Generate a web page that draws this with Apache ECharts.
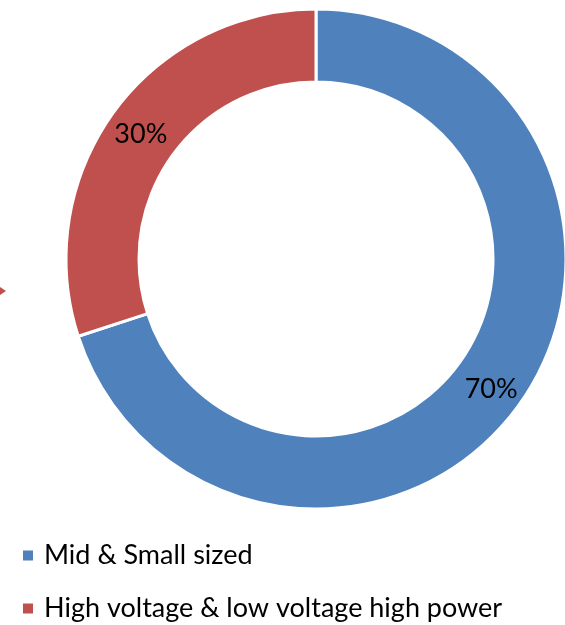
<!DOCTYPE html>
<html><head><meta charset="utf-8">
<script src="https://cdn.jsdelivr.net/npm/echarts@6/dist/echarts.min.js"></script>
<style>html,body{margin:0;padding:0;background:#fff}#c{width:565px;height:625px}</style>
</head><body><div id="c"></div>
<script>
var categories = ['Mid & Small sized', 'High voltage & low voltage high power'];
var values = [70, 30];
var colors = ['#4F81BD', '#C0504D'];

var chart = echarts.init(document.getElementById('c'), null, {renderer: 'canvas'});
chart.setOption({
  animation: false,
  color: colors,
  legend: {
    orient: 'vertical', left: 16, top: 537, height: 150,
    icon: 'rect', itemWidth: 12, itemHeight: 12, itemGap: 26,
    textStyle: {fontFamily: 'Lato', fontSize: 27, color: '#000', padding: [0, 0, 0, 5]},
    data: categories
  },
  graphic: [{
    type: 'polygon', shape: {points: [[0, 287], [6, 291], [0, 295]]},
    style: {fill: '#C0504D'}
  }],
  series: [{
    type: 'pie',
    center: [316, 259],
    radius: [177, 250],
    startAngle: 90,
    clockwise: true,
    itemStyle: {borderColor: '#fff', borderWidth: 3},
    label: {
      show: true, position: 'inside',
      formatter: '{d}%', offset: [0, 3],
      fontFamily: 'Lato', fontSize: 27, color: '#000'
    },
    labelLine: {show: false},
    data: categories.map(function (c, i) { return {name: c, value: values[i]}; })
  }]
});
</script></body></html>
